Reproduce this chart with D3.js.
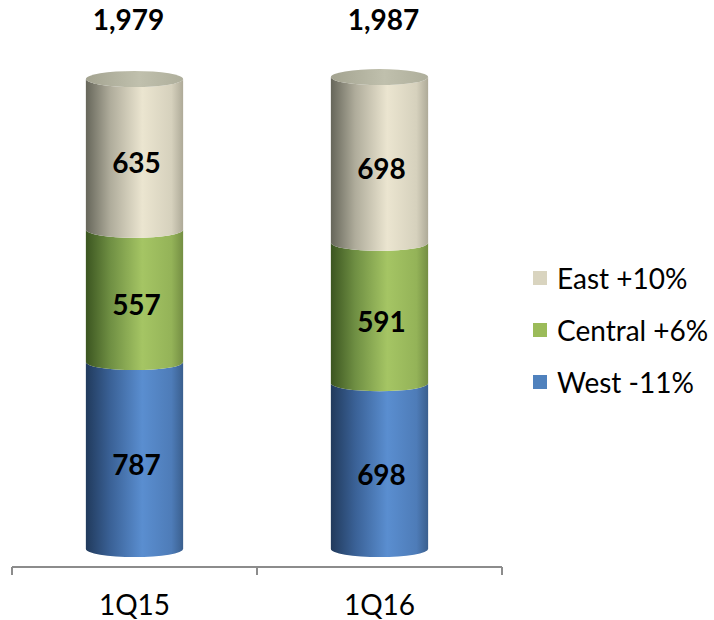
<!DOCTYPE html>
<html><head><meta charset="utf-8">
<script src="https://cdn.jsdelivr.net/npm/d3@7"></script>
<style>body{margin:0;background:#fff}svg{display:block}</style>
</head><body>
<script>
const categories = ["1Q15", "1Q16"];
const seriesNames = ["West", "Central", "East"];
const legendLabels = ["East +10%", "Central +6%", "West -11%"];
const westValues = [787, 698];
const centralValues = [557, 591];
const eastValues = [635, 698];
const totalLabels = ["1,979", "1,987"];

const W = 714, H = 620;
const svg = d3.select("body").append("svg").attr("width", W).attr("height", H);
const font = "Lato, 'Open Sans', sans-serif";

const data = categories.map((c, i) => ({cat: c, West: westValues[i], Central: centralValues[i], East: eastValues[i]}));
const stacked = d3.stack().keys(seriesNames)(data);

const x = d3.scaleBand().domain(categories).range([12, 502]).padding(0);
const y = d3.scaleLinear().domain([0, 2000]).range([549, 74]);
const cw = x.bandwidth() * 0.397;
const rx = cw / 2, ry = 8;

const grads = {
  West: [["0%", "#213a5c"], ["25%", "#3a6196"], ["58%", "#5a8ed0"], ["88%", "#4e7cb8"], ["100%", "#3a5f8e"]],
  Central: [["0%", "#3b5520"], ["25%", "#6f8f43"], ["58%", "#a5c564"], ["88%", "#94b358"], ["100%", "#748e43"]],
  East: [["0%", "#66665a"], ["25%", "#afac9b"], ["58%", "#ebe5d0"], ["88%", "#d6d1bd"], ["100%", "#aeaa98"]]
};
const defs = svg.append("defs");
Object.entries(grads).forEach(([k, stops]) => {
  const g = defs.append("linearGradient").attr("id", "g" + k).attr("x1", 0).attr("x2", 1).attr("y1", 0).attr("y2", 0);
  stops.forEach(s => g.append("stop").attr("offset", s[0]).attr("stop-color", s[1]));
});
const tg = defs.append("linearGradient").attr("id", "gTop").attr("x1", 0).attr("x2", 1).attr("y1", 0).attr("y2", 0);
[["0%", "#a3a390"], ["55%", "#c0c0ad"], ["100%", "#aeae9b"]].forEach(s => tg.append("stop").attr("offset", s[0]).attr("stop-color", s[1]));

function segPath(cx, yTop, yBot) {
  const xl = cx - rx, xr = cx + rx;
  return `M${xl},${yTop} L${xl},${yBot} A${rx},${ry} 0 0 0 ${xr},${yBot} L${xr},${yTop} A${rx},${ry} 0 0 1 ${xl},${yTop} Z`;
}

stacked.forEach(layer => {
  layer.forEach((d, i) => {
    const cx = x(categories[i]) + x.bandwidth() / 2;
    const yTop = y(d[1]), yBot = y(d[0]);
    svg.append("path").attr("d", segPath(cx, yTop, yBot)).attr("fill", `url(#g${layer.key})`);
    svg.append("text").attr("x", cx + 2).attr("y", (yTop + yBot) / 2 + ry)
      .attr("text-anchor", "middle").attr("dominant-baseline", "central")
      .attr("font-family", font).attr("font-weight", "bold").attr("font-size", 28)
      .text(d.data[layer.key]);
  });
});

// top ellipses and total labels
const topLayer = stacked[stacked.length - 1];
topLayer.forEach((d, i) => {
  const cx = x(categories[i]) + x.bandwidth() / 2;
  svg.append("ellipse").attr("cx", cx).attr("cy", y(d[1])).attr("rx", rx).attr("ry", ry)
    .attr("fill", "url(#gTop)");
  svg.append("text").attr("x", cx + (i === 0 ? -6 : 4)).attr("y", 19)
    .attr("text-anchor", "middle").attr("dominant-baseline", "central")
    .attr("font-family", font).attr("font-weight", "bold").attr("font-size", 28)
    .text(totalLabels[i]);
});

// axis
const axisG = svg.append("g").attr("transform", "translate(0,567)");
axisG.append("line").attr("x1", 12).attr("x2", 502).attr("stroke", "#8c8c8c").attr("stroke-width", 2);
const tickXs = [12, ...categories.map(c => x(c) + x.bandwidth())];
tickXs.forEach(tx => axisG.append("line").attr("x1", tx).attr("x2", tx).attr("y1", 0).attr("y2", 8).attr("stroke", "#8c8c8c").attr("stroke-width", 2));
categories.forEach(c => {
  axisG.append("text").attr("x", x(c) + x.bandwidth() / 2).attr("y", 48)
    .attr("text-anchor", "middle").attr("font-family", font).attr("font-size", 28).attr("fill", "#000").text(c);
});

// legend
const legColors = ["#d9d4bf", "#9bbb59", "#4f81bd"];
legendLabels.forEach((l, i) => {
  const ly = 278 + i * 52;
  svg.append("rect").attr("x", 533).attr("y", ly - 7).attr("width", 14).attr("height", 14).attr("fill", legColors[i]);
  svg.append("text").attr("x", 557).attr("y", ly).attr("dominant-baseline", "central")
    .attr("font-family", font).attr("font-size", 28).attr("fill", "#000").text(l);
});
</script>
</body></html>
